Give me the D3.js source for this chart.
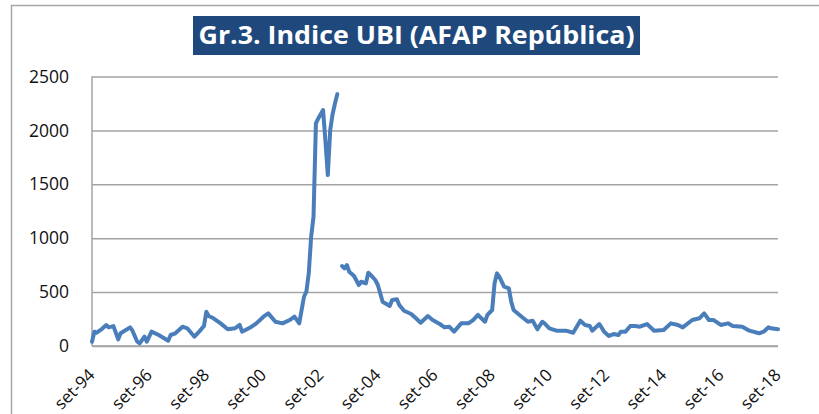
<!DOCTYPE html>
<html>
<head>
<meta charset="utf-8">
<script src="https://cdn.jsdelivr.net/npm/d3@7"></script>
<style>
  html, body { margin: 0; padding: 0; background: #fff; }
  svg { display: block; }
</style>
</head>
<body>
<div id="chart"></div>
<script>
// Indice UBI, months counted from set-94 (index 0) to set-18 (index 288).
// null = missing month (gap in the line).
const monthIdx = [
  0, 1, 2, 3, 4, 6, 7, 9, 11, 12, 16, 17, 19, 20, 22, 23, 25, 28, 32, 33,
  35, 38, 40, 43, 45, 47, 48, 49, 51, 54, 57, 60, 62, 63, 67, 69, 72, 74, 77, 80,
  83, 85, 87, 89, 90, 91, 92, 93, 94, 95, 96, 97, 98, 99, 100, 101, 102, 103, 104,
  105, 106, 107, 108, 110, 112, 113, 115, 116, 117, 119, 120, 121, 122, 125, 126, 128, 129, 131, 134,
  136, 138, 141, 143, 146, 148, 150, 152, 155, 158, 160, 162, 165, 166, 168, 169, 170, 171, 173,
  175, 176, 177, 180, 183, 185, 187, 189, 190, 192, 195, 199, 202, 205, 207, 209, 210, 213,
  215, 217, 219, 221, 222, 224, 226, 228, 230, 233, 236, 240, 243, 246, 248, 252, 255, 257,
  259, 261, 264, 267, 269, 273, 276, 280, 282, 284, 285, 288
];
const ubi = [
  40, 133, 123, 140, 155, 195, 173, 185, 62, 118, 173, 142, 40, 25, 86, 40, 133, 102, 49, 102,
  118, 179, 164, 86, 133, 185, 318, 278, 257, 210, 155, 164, 195, 133, 179, 210, 272, 303, 225, 210,
  241, 272, 210, 457, 504, 674, 1014, 1199, 2065, 2111, 2150, 2189, 1900, 1586, 2000, 2150, 2250, 2337, null,
  742, 720, 751, 689, 649, 566, 596, 581, 680, 659, 610, 566, 489, 411, 371, 427, 433, 380, 327, 297,
  257, 216, 278, 241, 204, 173, 179, 133, 210, 210, 241, 288, 225, 288, 334, 581, 674, 643, 550,
  535, 411, 334, 278, 225, 235, 155, 225, 210, 164, 142, 142, 123, 235, 195, 185, 142, 204,
  133, 93, 111, 102, 133, 133, 185, 185, 179, 204, 142, 148, 210, 195, 173, 241, 257, 303,
  241, 241, 195, 210, 185, 179, 142, 118, 133, 173, 164, 155
];
const yTicks = [0, 500, 1000, 1500, 2000, 2500];
const xTickIdx = [0, 24, 48, 72, 96, 120, 144, 168, 192, 216, 240, 264, 288];
const xTickLabels = ['set-94', 'set-96', 'set-98', 'set-00', 'set-02', 'set-04', 'set-06',
  'set-08', 'set-10', 'set-12', 'set-14', 'set-16', 'set-18'];
const titleText = 'Gr.3. Indice UBI (AFAP República)';

const W = 819, H = 414;
const plot = {left: 92, right: 778, top: 76.5, bottom: 346};
const gridColor = '#a3a3a3';
const font = '"Open Sans", "Liberation Sans", sans-serif';

const svg = d3.select('#chart').append('svg')
  .attr('width', W)
  .attr('height', H);

svg.append('rect').attr('width', W).attr('height', H).attr('fill', '#fff');

// outer chart frame (only left and top edges are visible in the crop)
svg.append('path')
  .attr('d', `M11.5,${H + 2} L11.5,5.5 L${W + 2},5.5`)
  .attr('fill', 'none')
  .attr('stroke', '#a6a6a6')
  .attr('stroke-width', 1.5);

const x = d3.scaleLinear().domain([0, 288]).range([plot.left, plot.right]);
const y = d3.scaleLinear().domain([0, 2500]).range([plot.bottom, plot.top]);

// horizontal gridlines + y labels
const yAxis = d3.axisLeft(y)
  .tickValues(yTicks)
  .tickFormat(d3.format('d'))
  .tickSize(-(plot.right - plot.left))
  .tickPadding(23);
const gy = svg.append('g')
  .attr('transform', `translate(${plot.left},0)`)
  .call(yAxis);
gy.select('.domain').remove();
gy.selectAll('.tick line')
  .attr('stroke', gridColor)
  .attr('stroke-width', 1.5);
gy.selectAll('.tick text')
  .attr('fill', '#111')
  .style('font-family', font)
  .style('font-size', '17.5px');

// axis lines
svg.append('line')
  .attr('x1', plot.left).attr('x2', plot.left)
  .attr('y1', plot.top).attr('y2', plot.bottom)
  .attr('stroke', gridColor).attr('stroke-width', 1.5);
svg.append('line')
  .attr('x1', plot.left).attr('x2', plot.right)
  .attr('y1', plot.bottom).attr('y2', plot.bottom)
  .attr('stroke', gridColor).attr('stroke-width', 1.5);

// x labels, rotated like the spreadsheet axis
svg.append('g')
  .selectAll('text')
  .data(xTickIdx)
  .enter()
  .append('text')
  .attr('transform', d => `translate(${x(d) + 4},376) rotate(-45)`)
  .attr('text-anchor', 'end')
  .attr('fill', '#111')
  .style('font-family', font)
  .style('font-size', '17px')
  .text((d, i) => xTickLabels[i]);

// series line
const series = monthIdx.map((m, i) => ({m, v: ubi[i]}));
const line = d3.line()
  .defined(d => d.v !== null)
  .x(d => x(d.m))
  .y(d => y(d.v));

svg.append('path')
  .datum(series)
  .attr('d', line)
  .attr('fill', 'none')
  .attr('stroke', '#4a7ebb')
  .attr('stroke-width', 4)
  .attr('stroke-linejoin', 'round')
  .attr('stroke-linecap', 'round');

// title box
svg.append('rect')
  .attr('x', 193).attr('y', 16)
  .attr('width', 447).attr('height', 39)
  .attr('fill', '#1f497d');
svg.append('text')
  .attr('x', 416.5).attr('y', 44)
  .attr('text-anchor', 'middle')
  .attr('fill', '#fff')
  .attr('textLength', 436)
  .attr('lengthAdjust', 'spacingAndGlyphs')
  .style('font-family', font)
  .style('font-weight', 'bold')
  .style('font-size', '25px')
  .text(titleText);
</script>
</body>
</html>
